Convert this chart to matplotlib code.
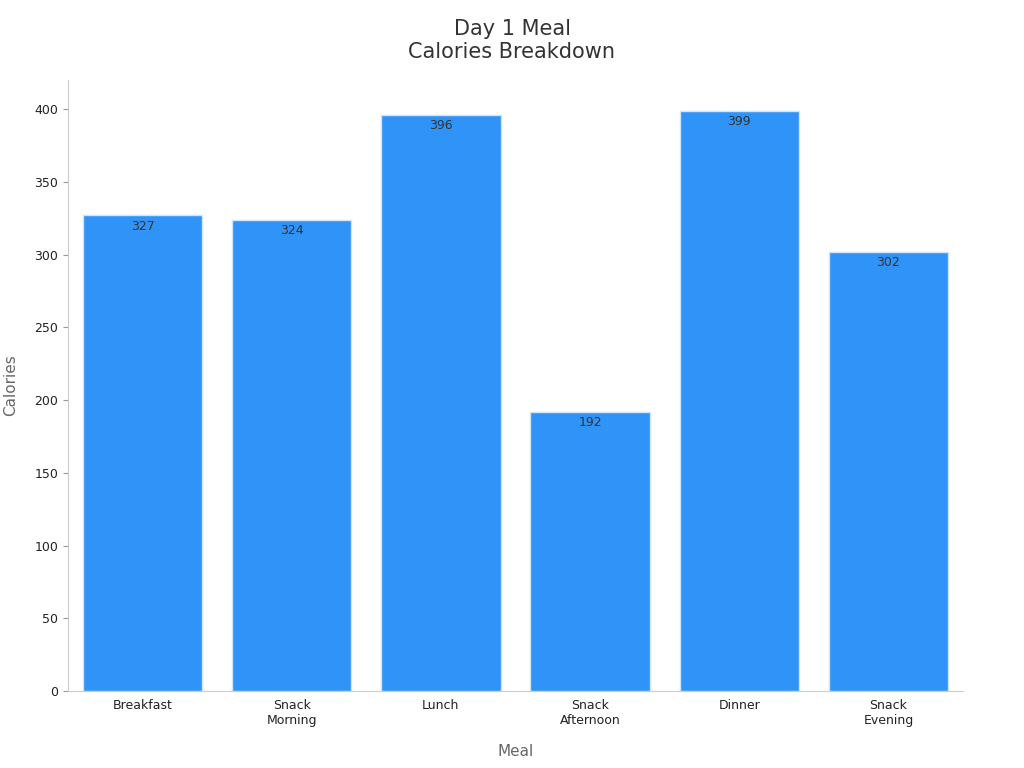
import matplotlib.pyplot as plt

meals = ['Breakfast', 'Snack\nMorning', 'Lunch', 'Snack\nAfternoon', 'Dinner', 'Snack\nEvening']
calories = [327, 324, 396, 192, 399, 302]

fig = plt.figure(figsize=(10.24, 7.68), dpi=100)
ax = fig.add_axes([68 / 1024, 1 - 691 / 768, (963 - 68) / 1024, (691 - 80) / 768])

bars = ax.bar(range(len(meals)), calories, width=0.8, color='#2F93F8', edgecolor='#D0E4F8', linewidth=1)
for b, v in zip(bars, calories):
    ax.text(b.get_x() + b.get_width() / 2, v - 3, str(v), ha='center', va='top',
            fontsize=9, color='#333333')

ax.set_xlim(-0.5, 5.5)
ax.set_ylim(0, 420)
ax.set_xticks(range(len(meals)))
ax.set_xticklabels(meals, fontsize=9, color='#222222')
ax.set_yticks(range(0, 401, 50))
ax.tick_params(axis='y', labelsize=9, colors='#222222')
ax.tick_params(axis='both', color='#999999')
ax.tick_params(axis='x', length=0, pad=6)
ax.set_xlabel('Meal', fontsize=11, color='#666666', labelpad=12)
ax.set_ylabel('Calories', fontsize=11, color='#666666', labelpad=12)
for s in ['top', 'right']:
    ax.spines[s].set_visible(False)
for s in ['left', 'bottom']:
    ax.spines[s].set_color('#CCCCCC')
fig.suptitle('Day 1 Meal\nCalories Breakdown', fontsize=15, color='#333333', y=0.975)

fig.savefig('out.png', dpi=100)
